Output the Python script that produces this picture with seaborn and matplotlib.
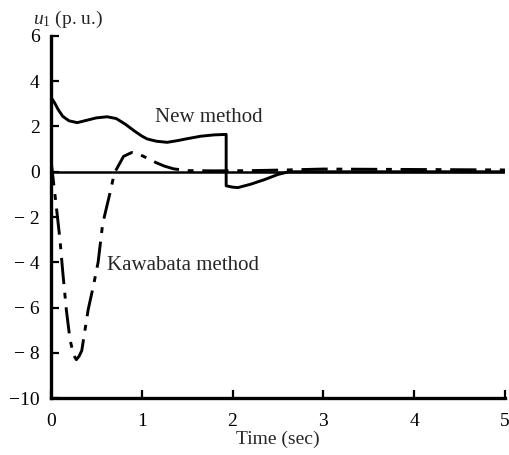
import pandas as pd
import matplotlib
matplotlib.use("Agg")
import matplotlib.pyplot as plt
import seaborn as sns

# values (time in sec, u1 in p.u.)
new_t = [0.00, 0.04, 0.08, 0.13, 0.20, 0.29, 0.40, 0.50, 0.62, 0.72, 0.82, 0.92,
         1.00, 1.06, 1.16, 1.28, 1.40, 1.50, 1.65, 1.80, 1.93, 1.93, 2.00, 2.06,
         2.20, 2.35, 2.50, 2.62, 5.00]
new_u = [3.30, 3.05, 2.75, 2.45, 2.25, 2.17, 2.28, 2.38, 2.43, 2.35, 2.10, 1.80,
         1.58, 1.45, 1.35, 1.30, 1.38, 1.46, 1.57, 1.63, 1.65, -0.62, -0.68, -0.70,
         -0.55, -0.35, -0.12, 0.00, 0.00]

kaw_t = [0.00, 0.05, 0.10, 0.13, 0.17, 0.21, 0.25, 0.28, 0.31, 0.34, 0.41, 0.47,
         0.52, 0.57, 0.65, 0.70, 0.80, 0.89, 0.98, 1.07, 1.16, 1.25, 1.35, 1.50,
         1.80, 2.20, 2.60, 3.00, 4.00, 5.00]
kaw_u = [0.55, -1.20, -3.00, -4.40, -6.10, -7.40, -8.10, -8.30, -8.15, -7.90, -6.10, -5.00,
         -4.00, -2.30, -0.95, -0.05, 0.68, 0.85, 0.76, 0.58, 0.40, 0.25, 0.13, 0.05,
         0.04, 0.05, 0.08, 0.12, 0.10, 0.08]

x_ticks = [0, 1, 2, 3, 4, 5]
y_ticks = [-10, -8, -6, -4, -2, 0, 2, 4, 6]
y_labels = ["\u221210", "\u2212 8", "\u2212 6", "\u2212 4", "\u2212 2", "0", "2", "4", "6"]

sns.set_style("ticks")
plt.rcParams["font.family"] = ["Liberation Serif", "DejaVu Serif"]
plt.rcParams["mathtext.fontset"] = "custom"
plt.rcParams["mathtext.rm"] = "Liberation Serif"
plt.rcParams["mathtext.it"] = "Liberation Serif:italic"

df_new = pd.DataFrame({"t": new_t, "u": new_u})
df_kaw = pd.DataFrame({"t": kaw_t, "u": kaw_u})

fig = plt.figure(figsize=(5.09, 4.55), dpi=100)
ax = fig.add_axes([0.100, 0.125, 0.892, 0.796])

ax.axhline(0, color="black", lw=1.8, zorder=1)
sns.lineplot(data=df_new, x="t", y="u", ax=ax, color="black", lw=2.1,
             sort=False, estimator=None)
sns.lineplot(data=df_kaw, x="t", y="u", ax=ax, color="black", lw=2.1,
             sort=False, estimator=None, linestyle=(0, (9, 3, 2, 3)))

ax.set_xlim(0, 5)
ax.set_ylim(-10, 6)
ax.set_xticks(x_ticks)
ax.set_yticks(y_ticks, y_labels)
ax.tick_params(direction="in", length=6, width=1.6, labelsize=14, colors="black")
ax.tick_params(axis="y", pad=8)
ax.tick_params(axis="x", pad=11)
sns.despine(ax=ax)
for s in ["left", "bottom"]:
    ax.spines[s].set_linewidth(2.4)
    ax.spines[s].set_color("black")

ax.set_xlabel("Time (sec)", fontsize=14, labelpad=0)
ax.set_ylabel("")
fig.text(0.064, 0.958, r"$u_1$ (p. u.)", fontsize=14, ha="left", va="center")

ax.text(1.15, 2.4, "New method", fontsize=15, ha="left", va="center")
ax.text(0.62, -4.15, "Kawabata method", fontsize=15, ha="left", va="center")

fig.savefig("out.png", dpi=100, facecolor="white")
